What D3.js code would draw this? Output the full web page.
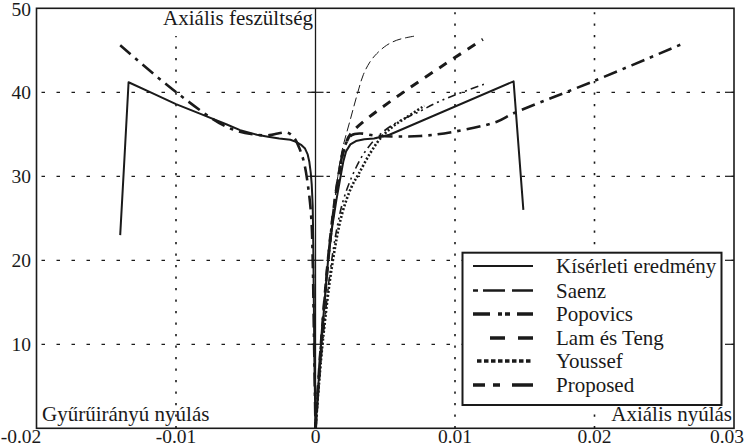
<!DOCTYPE html>
<html><head><meta charset="utf-8">
<script src="https://cdn.jsdelivr.net/npm/d3@7"></script>
<style>
html,body{margin:0;padding:0;background:#fff;}
svg{display:block;}
</style></head>
<body>
<svg id="chart" width="752" height="448"></svg>
<script>
// ---- data ----
const xTicks = [-0.02, -0.01, 0, 0.01, 0.02, 0.03];
const xTickLabels = ["-0.02", "-0.01", "0", "0.01", "0.02", "0.03"];
const yTicks = [10, 20, 30, 40, 50];
const yTickLabels = ["10", "20", "30", "40", "50"];
const seriesNames = ["Kísérleti eredmény", "Saenz", "Popovics", "Lam és Teng", "Youssef", "Proposed"];

const kiserletiLeft = [[-0.0140,23.0],[-0.0137,32],[-0.0134,41.2],[-0.0117,39.9],[-0.0100,38.6],[-0.0082,37.4],[-0.0064,36.2],[-0.0054,35.5],[-0.0042,34.95],[-0.0034,34.7],[-0.0026,34.5],[-0.0018,34.35],[-0.0014,34.1],[-0.0010,33.7],[-0.00075,33.3],[-0.00056,32.6],[-0.00044,31.7],[-0.00034,30.4],[-0.00027,29],[-0.0002,26.5],[-0.00016,22],[-0.00012,15],[-0.00008,8],[0,0]];
const kiserletiRight = [[0,0],[0.0002,5],[0.0004,10],[0.0007,16],[0.0009,20],[0.0012,24],[0.0015,27.2],[0.0018,30],[0.0020,31.8],[0.0022,33.0],[0.0025,33.8],[0.0029,34.2],[0.0035,34.4],[0.0042,34.5],[0.0047,34.7],[0.0053,34.95],[0.0142,41.3],[0.0149,26.0]];
const saenz = [[0,0],[0.0004,10],[0.0009,20],[0.0013,26],[0.0016,30],[0.00188,32.9],[0.00247,36.6],[0.00305,40.1],[0.00343,42.1],[0.00390,43.6],[0.00439,44.6],[0.00510,45.6],[0.00582,46.2],[0.00650,46.5],[0.00713,46.7]];
const popovics = [[0,0],[0.0005,10],[0.0010,18],[0.0015,23.5],[0.0020,27.2],[0.0027,30.3],[0.0035,32.8],[0.0045,34.8],[0.0058,36.4],[0.0072,37.5],[0.0090,39.0],[0.01215,41.0]];
const lamTeng = [[0,0],[0.0004,10],[0.0009,20],[0.0013,26],[0.0017,30.5],[0.0021,33.5],[0.0027,35.4],[0.0120,46.3]];
const youssef = [[0,0],[0.0005,10],[0.0012,19.5],[0.0019,25.5],[0.0026,28.8],[0.0031,30.3],[0.0039,32.7],[0.0047,34.6],[0.0056,36.0],[0.0066,37.1],[0.0078,38.4]];
const proposedLeft = [[-0.0140,45.6],[-0.0099,39.9],[-0.0064,35.9],[-0.0045,35.0],[-0.0033,34.9],[-0.0027,35.1],[-0.0020,35.2],[-0.0015,34.5],[-0.0011,33.1],[-0.0008,31.5],[-0.0005,28.4],[-0.0003,25],[-0.0002,20],[-0.00012,12],[-0.00005,5],[0,0]];
const proposedRight = [[0,0],[0.0004,10],[0.0009,20],[0.0013,26],[0.0017,30.5],[0.0021,33.6],[0.0026,34.9],[0.0032,35.1],[0.0045,34.8],[0.0075,34.8],[0.0099,35.3],[0.0130,36.5],[0.0142,37.5],[0.0199,41.3],[0.0265,45.9]];

// ---- layout ----
const svg = d3.select("#chart");
const FONT = "'Liberation Serif', 'DejaVu Serif', 'Times New Roman', serif";
const pLeft = 36.5, pRight = 734, pTop = 8.3, pBottom = 428.3;
const x = d3.scaleLinear().domain([-0.02, 0.03]).range([pLeft, pRight]);
const y = d3.scaleLinear().domain([0, 50]).range([pBottom, pTop]);
const ink = "#1a1a1a";

svg.append("defs").append("clipPath").attr("id","clip")
  .append("rect").attr("x",pLeft).attr("y",pTop).attr("width",pRight-pLeft).attr("height",pBottom-pTop);

// grid
const gGrid = svg.append("g");
gGrid.selectAll("line.h").data([10,20,30,40]).join("line")
  .attr("x1", pLeft+5).attr("x2", pRight).attr("y1", d=>y(d)).attr("y2", d=>y(d))
  .attr("stroke", ink).attr("stroke-width",1.3).attr("stroke-dasharray","3.5,11.5");
gGrid.selectAll("line.v").data([-0.01,0.01,0.02]).join("line")
  .attr("x1", d=>x(d)).attr("x2", d=>x(d)).attr("y1", pBottom).attr("y2", d=> d < 0 ? 36 : pTop+4)
  .attr("stroke", ink).attr("stroke-width",1.6).attr("stroke-dasharray","2.2,9.3");

// zero axis and ticks
svg.append("line").attr("x1",x(0)).attr("x2",x(0)).attr("y1",pTop).attr("y2",pBottom)
  .attr("stroke",ink).attr("stroke-width",1.3);
svg.selectAll("line.zt").data([10,20,30,40]).join("line")
  .attr("x1",x(0)-8).attr("x2",x(0)+8).attr("y1",d=>y(d)).attr("y2",d=>y(d))
  .attr("stroke",ink).attr("stroke-width",1.2);
svg.selectAll("line.rt").data([10,20,30,40]).join("line")
  .attr("x1",pRight-9).attr("x2",pRight).attr("y1",d=>y(d)).attr("y2",d=>y(d))
  .attr("stroke",ink).attr("stroke-width",1.2);

// series
const styles = [
  {w:2.0, dash:null},
  {w:1.0, dash:"9,4"},
  {w:1.6, dash:"8,4,2,4,2,4"},
  {w:3.0, dash:"9,8"},
  {w:2.6, dash:"2,2"},
  {w:2.6, dash:"14,6,3.5,6"}
];
const lineLin = d3.line().x(d=>x(d[0])).y(d=>y(d[1])).curve(d3.curveLinear);
const lineSm = d3.line().x(d=>x(d[0])).y(d=>y(d[1])).curve(d3.curveCatmullRom.alpha(0.5));
const gLines = svg.append("g").attr("clip-path","url(#clip)");
const paths = [
  {d: kiserletiLeft.concat(kiserletiRight.slice(1)), s:0, gen: lineLin},
  {d: saenz, s:1, gen: lineSm},
  {d: popovics, s:2, gen: lineSm},
  {d: lamTeng, s:3, gen: lineSm},
  {d: youssef, s:4, gen: lineSm},
  {d: proposedLeft, s:5, gen: lineSm},
  {d: proposedRight, s:5, gen: lineSm}
];
paths.forEach(p => {
  gLines.append("path").attr("d", p.gen(p.d)).attr("fill","none")
    .attr("stroke", ink).attr("stroke-width", styles[p.s].w)
    .attr("stroke-linejoin","round")
    .attr("stroke-dasharray", styles[p.s].dash);
});

// frame
svg.append("rect").attr("x",pLeft).attr("y",pTop).attr("width",pRight-pLeft).attr("height",pBottom-pTop)
  .attr("fill","none").attr("stroke",ink).attr("stroke-width",1.6);

// tick labels
const xLabelPos = [21, null, null, null, null, 727];
svg.selectAll("text.xt").data(xTicks).join("text")
  .attr("x",(d,i)=> xLabelPos[i] !== null ? xLabelPos[i] : x(d))
  .attr("y",443).attr("text-anchor","middle").attr("font-size",19.5)
  .attr("font-family",FONT).attr("fill",ink)
  .text((d,i)=>xTickLabels[i]);
svg.selectAll("text.yt").data(yTicks).join("text")
  .attr("x",31).attr("y",d=>Math.max(y(d)+6.5, 16)).attr("text-anchor","end").attr("font-size",19.5)
  .attr("font-family",FONT).attr("fill",ink)
  .text((d,i)=>yTickLabels[i]);

// axis titles
const title = (tx,ty,anchor,str)=> svg.append("text").attr("x",tx).attr("y",ty)
  .attr("text-anchor",anchor).attr("font-size",21).attr("font-family",FONT).attr("fill",ink).text(str);
title(313,25,"end","Axiális feszültség");
title(42,421,"start","Gyűrűirányú nyúlás");
title(732,421,"end","Axiális nyúlás");

// legend
const lg = svg.append("g");
lg.append("rect").attr("x",462.5).attr("y",252.7).attr("width",259).attr("height",152.3)
  .attr("fill","#fff").attr("stroke",ink).attr("stroke-width",2);
const legendDash = [null, "5,5,22,7,22", "17,8,4,3,5,7,16", "15,13,15", "4.5,2.5", "12,8,7,12,21"];
const legendStart = [473, 473, 473, 490, 477, 473];
const legendW = [2, 2.5, 3.3, 3.3, 3.3, 3.3];
const rowY = [266, 290.5, 314, 338, 361, 385];
seriesNames.forEach((n,i)=>{
  lg.append("line").attr("x1",legendStart[i]).attr("x2",533).attr("y1",rowY[i]).attr("y2",rowY[i])
    .attr("stroke",ink).attr("stroke-width",legendW[i]).attr("stroke-dasharray",legendDash[i]);
  lg.append("text").attr("x",556).attr("y",rowY[i]+7).attr("font-size",21)
    .attr("font-family",FONT).attr("fill",ink).text(n);
});
</script>
</body></html>
